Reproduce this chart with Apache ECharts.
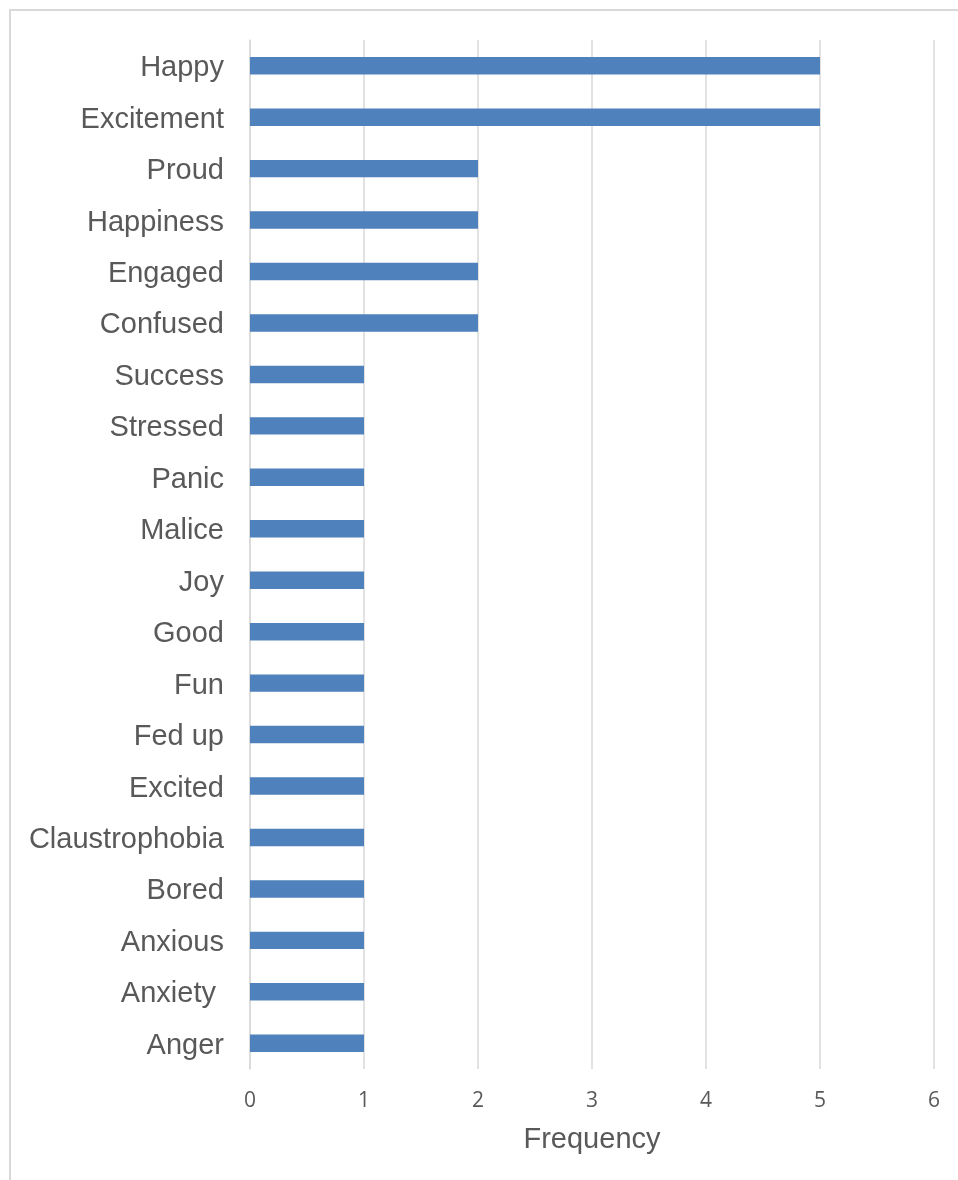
<!DOCTYPE html>
<html>
<head>
<meta charset="utf-8">
<script src="https://cdn.jsdelivr.net/npm/echarts@6/dist/echarts.min.js"></script>
<style>
html,body{margin:0;padding:0;background:#fff;}
#chart{width:958px;height:1180px;}
</style>
</head>
<body>
<div id="chart"></div>
<script>
// Categories listed bottom to top (ECharts draws first category at bottom)
var categories = ["Anger","Anxiety ","Anxious","Bored","Claustrophobia","Excited","Fed up","Fun","Good","Joy","Malice","Panic","Stressed","Success","Confused","Engaged","Happiness","Proud","Excitement","Happy"];
var frequency = [1,1,1,1,1,1,1,1,1,1,1,1,1,1,2,2,2,2,5,5];
var xTicks = {min:0, max:6, interval:1};
var axisName = "Frequency";

var chart = echarts.init(document.getElementById('chart'), null, {renderer:'canvas'});
chart.setOption({
  animation:false,
  backgroundColor:'#ffffff',
  graphic:[{
    type:'rect', silent:true, z:-10,
    shape:{x:10, y:10, width:1100, height:1300},
    style:{fill:'none', stroke:'#D9D9D9', lineWidth:2}
  }],
  grid:{left:250, right:24, top:40, bottom:111, containLabel:false},
  xAxis:{
    type:'value', min:xTicks.min, max:xTicks.max, interval:xTicks.interval,
    name:axisName, nameLocation:'middle', nameGap:56,
    nameTextStyle:{fontFamily:'Liberation Sans, Arial, sans-serif', fontSize:29, color:'#595959'},
    axisLine:{show:false}, axisTick:{show:false},
    axisLabel:{fontFamily:'Open Sans, sans-serif', fontSize:21, color:'#595959', margin:22},
    splitLine:{show:true, lineStyle:{color:'#D9D9D9', width:1.5}}
  },
  yAxis:{
    type:'category', data:categories,
    axisLine:{show:true, lineStyle:{color:'#D9D9D9', width:1.5}},
    axisTick:{show:false},
    axisLabel:{
      margin:26,
      formatter:function(v){ return '{a|' + v + '}'; },
      rich:{a:{fontFamily:'Liberation Sans, Arial, sans-serif', fontSize:29, color:'#595959', padding:[5,0,0,0]}}
    },
    splitLine:{show:false}
  },
  series:[{
    type:'bar', data:frequency, barCategoryGap:'66%',
    itemStyle:{color:'#4F81BD'}
  }]
});
</script>
</body>
</html>
